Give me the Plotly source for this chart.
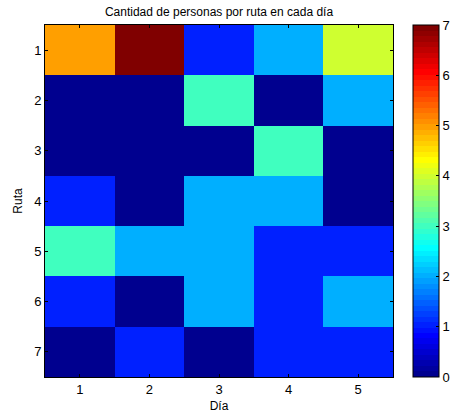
import plotly.graph_objects as go
import numpy as np

dias = [1, 2, 3, 4, 5]
rutas = [1, 2, 3, 4, 5, 6, 7]
valores = [
    [5, 7, 1, 2, 4],
    [0, 0, 3, 0, 2],
    [0, 0, 0, 3, 0],
    [1, 0, 2, 2, 0],
    [3, 2, 2, 1, 1],
    [1, 0, 2, 1, 2],
    [0, 1, 0, 1, 1],
]
cb_ticks = [0, 1, 2, 3, 4, 5, 6, 7]


def matlab_jet(m=64):
    n = int(np.ceil(m / 4))
    u = np.concatenate([np.arange(1, n + 1) / n, np.ones(n - 1), np.arange(n, 0, -1) / n])
    g = int(np.ceil(n / 2)) - (1 if m % 4 == 1 else 0) + np.arange(1, len(u) + 1)
    r = g + n
    b = g - n
    g = g[g <= m]
    r = r[r <= m]
    b = b[b >= 1]
    J = np.zeros((m, 3))
    J[r - 1, 0] = u[:len(r)]
    J[g - 1, 1] = u[:len(g)]
    J[b - 1, 2] = u[len(u) - len(b):]
    return J


J = matlab_jet(64)
cs = []
for i, c in enumerate(J):
    col = "rgb(%d,%d,%d)" % tuple(int(round(v * 255)) for v in c)
    cs.append([i / 64, col])
    cs.append([(i + 1) / 64, col])

font = dict(family="Liberation Sans, Arial, sans-serif", size=12, color="black")

fig = go.Figure(go.Heatmap(
    z=valores, x=dias, y=rutas, zmin=0, zmax=7, colorscale=cs,
    xgap=0, ygap=0,
    colorbar=dict(
        x=(413 - 45) / 348, xanchor="left", xpad=0, ypad=0,
        y=0.5, yanchor="middle", len=1, lenmode="fraction",
        thickness=26, thicknessmode="pixels",
        outlinecolor="black", outlinewidth=1,
        tickvals=cb_ticks, ticks="inside", ticklen=3, tickcolor="black",
        tickfont=dict(size=13),
    ),
))

fig.update_layout(
    width=452, height=417,
    margin=dict(l=45, r=59, t=25, b=40, autoexpand=False),
    paper_bgcolor="white", plot_bgcolor="white",
    font=font,
    title=dict(text="Cantidad de personas por ruta en cada día", x=(45 + 393) / 2 / 452,
               xanchor="center", y=1 - 12 / 417, yanchor="middle", font=dict(size=12)),
)
fig.update_xaxes(
    tickvals=dias, ticks="inside", ticklen=3, tickcolor="black",
    showline=True, linecolor="black", linewidth=1, mirror="ticks",
    range=[0.5, 5.5], showgrid=False, zeroline=False,
    tickfont=dict(size=13),
    title=dict(text="Día", standoff=6, font=dict(size=12)),
)
fig.update_yaxes(
    tickvals=rutas, ticks="inside", ticklen=3, tickcolor="black",
    showline=True, linecolor="black", linewidth=1, mirror="ticks",
    range=[7.5, 0.5], showgrid=False, zeroline=False,
    tickfont=dict(size=13),
    title=dict(text="Ruta", standoff=8, font=dict(size=12)),
)

fig.write_html("out.html")
